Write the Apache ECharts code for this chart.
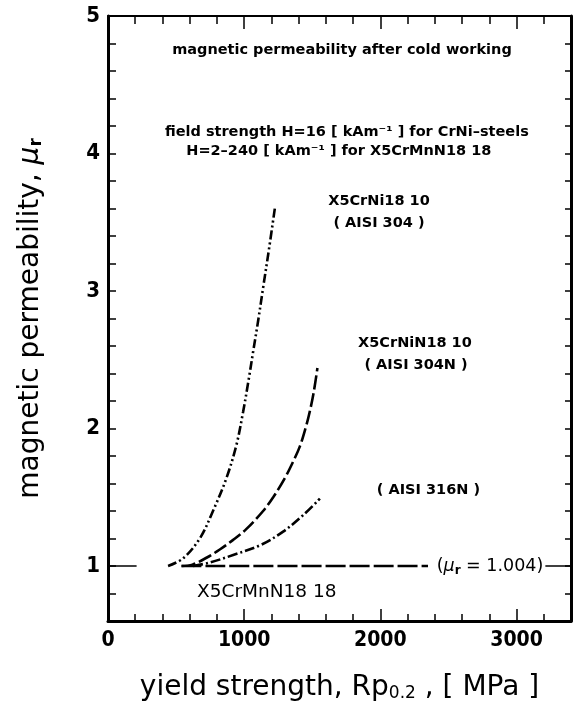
<!DOCTYPE html>
<html><head><meta charset="utf-8">
<script src="https://cdn.jsdelivr.net/npm/echarts@6/dist/echarts.min.js"></script>
<style>html,body{margin:0;padding:0;background:#fff}#c{width:575px;height:713px}</style>
</head><body><div id="c"></div>
<script>
// ---- data (x: yield strength MPa, y: relative permeability) ----
const aisi304  = [[441,1.0],[551,1.055],[674,1.2],[771,1.4],[870,1.64],[943,1.88],[992,2.12],[1032,2.35],[1066,2.56],[1102,2.78],[1140,3.03],[1183,3.31],[1225,3.6]];
const aisi304N = [[540,1.0],[620,1.01],[723,1.06],[821,1.12],[919,1.19],[1017,1.27],[1139,1.4],[1213,1.5],[1299,1.64],[1360,1.76],[1409,1.87],[1450,2.0],[1481,2.12],[1510,2.26],[1538,2.44]];
const aisi316N = [[625,1.0],[747,1.025],[919,1.08],[1115,1.15],[1286,1.25],[1433,1.37],[1556,1.49]];
const crMnN    = [[540,1.0],[2350,1.0]];
const refLeft  = [[0,1.0],[210,1.0]];
const refRight = [[3210,1.0],[3400,1.0]];
const xLabels = ['0','1000','2000','3000'];
const yLabels = ['1','2','3','4','5'];
const noteText = ['magnetic permeability after cold working',
  'field strength H=16 [ kAm⁻¹ ] for CrNi–steels',
  'H=2–240 [ kAm⁻¹ ] for X5CrMnN18 18',
  'X5CrNi18 10','( AISI 304 )','X5CrNiN18 10','( AISI 304N )','( AISI 316N )',
  'X5CrMnN18 18','(μr = 1.004)'];
const noteX = [1718,1754,1695,1990,1990,2254,2262,2353,1166,2805];
const noteY = [4.753,4.158,4.013,3.65,3.495,2.62,2.46,1.553,0.813,1.0];

const chart = echarts.init(document.getElementById('c'), null, {renderer:'canvas'});
const K = '#000';
const numFont = "'Liberation Sans Narrow','DejaVu Sans Condensed','Roboto Condensed','Liberation Sans',sans-serif";
const txtFont = "'DejaVu Sans',sans-serif";

function xAx(pos, interval, len, labels, line){
  return {type:'value', position:pos, min:0, max:3400, interval:interval,
    axisLine:{show:line, onZero:false, lineStyle:{color:K, width:pos==='bottom'?3:2}},
    axisTick:{show:true, inside:true, length:len, lineStyle:{color:K, width:1.5}},
    splitLine:{show:false},
    axisLabel:{show:labels, color:K, fontFamily:numFont, fontWeight:'bold', fontSize:21, margin:9,
      showMaxLabel:false, formatter:v=>{const s=String(Math.round(v)); return xLabels.includes(s)?s:'';}}
  };
}
function yAx(pos, len, labels){
  return {type:'value', position:pos, min:0.6, max:5, interval:0.2,
    axisLine:{show:true, onZero:false, lineStyle:{color:K, width:3}},
    axisTick:{show:true, inside:true, length:len, lineStyle:{color:K, width:1.5}},
    splitLine:{show:false},
    axisLabel:{show:labels, color:K, fontFamily:numFont, fontWeight:'bold', fontSize:22, margin:8,
      formatter:v=>{const r=Math.round(v); return (Math.abs(v-r)<1e-6 && yLabels.includes(String(r)))?String(r):'';}}
  };
}
const xAxes = [xAx('bottom',200,7,false,true), xAx('bottom',1000,12,true,false), xAx('top',200,8,false,true), xAx('top',1000,13,false,false)];
xAxes[0].name = '{a|yield strength, Rp}{s|0.2}{a| , [ MPa ]}';
xAxes[0].nameLocation = 'middle';
xAxes[0].nameGap = 53;
xAxes[0].nameTextStyle = {rich:{a:{fontFamily:txtFont, fontSize:28, color:K}, s:{fontFamily:txtFont, fontSize:17, color:K, padding:[11,0,0,0]}}};
const yAxes = [yAx('left',8,true), yAx('right',6,false)];
yAxes[0].name = '{a|magnetic permeability, }{m|μ}{s|r}';
yAxes[0].nameLocation = 'middle';
yAxes[0].nameGap = 63;
yAxes[0].nameRotate = 90;
yAxes[0].nameTextStyle = {rich:{a:{fontFamily:txtFont, fontSize:28, color:K}, m:{fontFamily:txtFont, fontSize:28, fontStyle:'italic', color:K}, s:{fontFamily:txtFont, fontSize:17, fontWeight:'bold', color:K, padding:[11,0,0,0]}}};

function lineSeries(name, data, dash){
  return {name:name, type:'line', xAxisIndex:0, yAxisIndex:0, data:data, smooth:0.35, symbol:'none', silent:true,
    lineStyle:{color:K, width:2.6, type:dash, cap:'butt'}};
}
const noteStyle = i => {
  if (i<=7) return {fontFamily:txtFont, fontSize:14.5, fontWeight:'bold', color:K};
  return {fontFamily:txtFont, fontSize:i===8?18.5:17.5, color:K};
};
const notes = noteText.map((t,i)=>{
  let fmt;
  const st = noteStyle(i);
  const rich = {n:st, m:Object.assign({}, st, {fontStyle:'italic'}), s:Object.assign({}, st, {fontSize:12, fontWeight:'bold', padding:[10,0,0,0]})};
  if (t.indexOf('μr')>=0){ const p=t.split('μr'); fmt='{n|'+p[0]+'}{m|μ}{s|r}{n|'+p[1]+'}'; }
  else fmt='{n|'+t+'}';
  return {value:[noteX[i], noteY[i]], label:{show:true, position:'inside', color:K, formatter:fmt, rich:rich,
    backgroundColor: i===9?'#fff':'transparent', padding:i===9?[0,2]:0}};
});

chart.setOption({
  animation:false,
  backgroundColor:'#fff',
  grid:{left:108, right:4, top:16, bottom:92, containLabel:false},
  xAxis:xAxes, yAxis:yAxes,
  series:[
    lineSeries('X5CrNi18 10 (AISI 304)', aisi304, [9,3,2,3,2,3]),
    lineSeries('X5CrNiN18 10 (AISI 304N)', aisi304N, [14,4]),
    lineSeries('AISI 316N', aisi316N, [10,3,2,3]),
    lineSeries('X5CrMnN18 18', crMnN, [20,4]),
    {type:'line', data:refLeft, symbol:'none', silent:true, lineStyle:{color:K, width:1.5}},
    {type:'line', data:refRight, symbol:'none', silent:true, lineStyle:{color:K, width:1.5}},
    {type:'scatter', data:notes, symbolSize:0, silent:true, z:5, itemStyle:{color:K, opacity:1}}
  ]
});
</script></body></html>
